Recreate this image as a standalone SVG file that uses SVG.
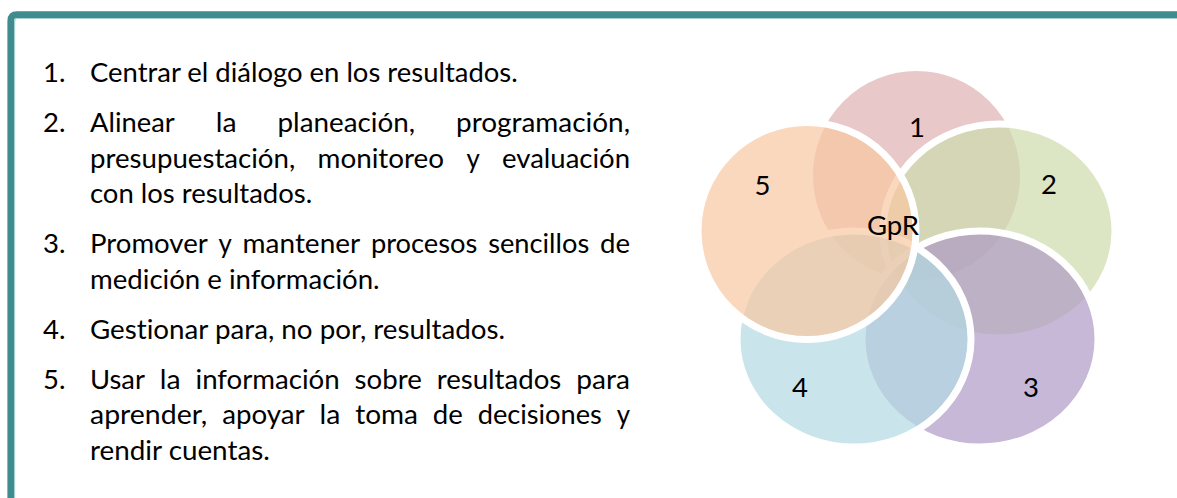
<svg xmlns="http://www.w3.org/2000/svg" width="1177" height="498" viewBox="0 0 1177 498">
<style>
.t{font-family:Lato,"Open Sans","Liberation Sans",sans-serif;font-size:27.5px;fill:#000;font-variant-ligatures:none}
.c{stroke:#fff;stroke-width:7;fill-opacity:0.7}
.lbl{text-anchor:middle}
</style>
<rect width="1177" height="498" fill="#fff"/>
<g id="frame">
<path d="M10.7 520 V21 Q10.7 14.6 17 14.6 H1190" fill="none" stroke="#3F8B8E" stroke-width="6.6"/>
<path d="M14.6 520 V22 Q14.6 18.5 18 18.5 H1190" fill="none" stroke="#A9D0D2" stroke-width="1.2"/>
</g>
<g id="list">
<g id="item1">
<text class="t" x="43" y="82">1.</text>
<text class="t" x="90" y="82" textLength="427.7" lengthAdjust="spacingAndGlyphs">Centrar el diálogo en los resultados.</text>
</g>
<g id="item2">
<text class="t" x="43" y="131.8">2.</text>
<text class="t" x="90" y="131.8" textLength="84.7" lengthAdjust="spacingAndGlyphs">Alinear</text>
<text class="t" x="215.7" y="131.8" textLength="20.8" lengthAdjust="spacingAndGlyphs">la</text>
<text class="t" x="277.5" y="131.8" textLength="137.5" lengthAdjust="spacingAndGlyphs">planeación,</text>
<text class="t" x="456" y="131.8" textLength="174" lengthAdjust="spacingAndGlyphs">programación,</text>
<text class="t" x="90" y="167.6" textLength="205.2" lengthAdjust="spacingAndGlyphs">presupuestación,</text>
<text class="t" x="317.5" y="167.6" textLength="126.6" lengthAdjust="spacingAndGlyphs">monitoreo</text>
<text class="t" x="466.4" y="167.6" textLength="13.3" lengthAdjust="spacingAndGlyphs">y</text>
<text class="t" x="502" y="167.6" textLength="128.1" lengthAdjust="spacingAndGlyphs">evaluación</text>
<text class="t" x="90" y="203.4" textLength="222.2" lengthAdjust="spacingAndGlyphs">con los resultados.</text>
</g>
<g id="item3">
<text class="t" x="43" y="253.2">3.</text>
<text class="t" x="90" y="253.2" textLength="117.8" lengthAdjust="spacingAndGlyphs">Promover</text>
<text class="t" x="218.6" y="253.2" textLength="13.3" lengthAdjust="spacingAndGlyphs">y</text>
<text class="t" x="242.6" y="253.2" textLength="117.6" lengthAdjust="spacingAndGlyphs">mantener</text>
<text class="t" x="370.9" y="253.2" textLength="106.5" lengthAdjust="spacingAndGlyphs">procesos</text>
<text class="t" x="488.2" y="253.2" textLength="101" lengthAdjust="spacingAndGlyphs">sencillos</text>
<text class="t" x="600" y="253.2" textLength="30" lengthAdjust="spacingAndGlyphs">de</text>
<text class="t" x="90" y="289" textLength="289.6" lengthAdjust="spacingAndGlyphs">medición e información.</text>
</g>
<g id="item4">
<text class="t" x="43" y="338.8">4.</text>
<text class="t" x="90" y="338.8" textLength="415.1" lengthAdjust="spacingAndGlyphs">Gestionar para, no por, resultados.</text>
</g>
<g id="item5">
<text class="t" x="43" y="388.6">5.</text>
<text class="t" x="90" y="388.6" textLength="54.9" lengthAdjust="spacingAndGlyphs">Usar</text>
<text class="t" x="159.8" y="388.6" textLength="20.8" lengthAdjust="spacingAndGlyphs">la</text>
<text class="t" x="195.5" y="388.6" textLength="144.2" lengthAdjust="spacingAndGlyphs">información</text>
<text class="t" x="354.6" y="388.6" textLength="67.2" lengthAdjust="spacingAndGlyphs">sobre</text>
<text class="t" x="436.7" y="388.6" textLength="124.6" lengthAdjust="spacingAndGlyphs">resultados</text>
<text class="t" x="576.3" y="388.6" textLength="53.7" lengthAdjust="spacingAndGlyphs">para</text>
<text class="t" x="90" y="424.4" textLength="117.3" lengthAdjust="spacingAndGlyphs">aprender,</text>
<text class="t" x="222.2" y="424.4" textLength="82.5" lengthAdjust="spacingAndGlyphs">apoyar</text>
<text class="t" x="319.5" y="424.4" textLength="20.8" lengthAdjust="spacingAndGlyphs">la</text>
<text class="t" x="355.2" y="424.4" textLength="62.8" lengthAdjust="spacingAndGlyphs">toma</text>
<text class="t" x="432.8" y="424.4" textLength="30" lengthAdjust="spacingAndGlyphs">de</text>
<text class="t" x="477.7" y="424.4" textLength="124.2" lengthAdjust="spacingAndGlyphs">decisiones</text>
<text class="t" x="616.7" y="424.4" textLength="13.3" lengthAdjust="spacingAndGlyphs">y</text>
<text class="t" x="90" y="460.2" textLength="179.8" lengthAdjust="spacingAndGlyphs">rendir cuentas.</text>
</g>
</g>
<g id="venn">
<g id="circle1"><ellipse class="c" cx="916.5" cy="175.5" rx="107" ry="108" fill="#DEB0B2"/></g>
<g id="circle2"><ellipse class="c" cx="999" cy="231" rx="116" ry="107" fill="#CDDBAC"/></g>
<g id="circle3"><ellipse class="c" cx="980" cy="339" rx="118" ry="108" fill="#AE9AC4"/></g>
<g id="circle4"><ellipse class="c" cx="854" cy="339" rx="117" ry="108" fill="#B2DAE2"/></g>
<g id="circle5"><ellipse class="c" cx="807" cy="231" rx="109" ry="108.5" fill="#F8C7A1"/></g>
<g id="labels">
<text class="t lbl" x="917" y="137">1</text>
<text class="t lbl" x="1049" y="194">2</text>
<text class="t lbl" x="1031" y="397">3</text>
<text class="t lbl" x="800" y="397">4</text>
<text class="t lbl" x="762.5" y="195">5</text>
<text class="t lbl" x="893" y="235">GpR</text>
</g>
</g>
</svg>
